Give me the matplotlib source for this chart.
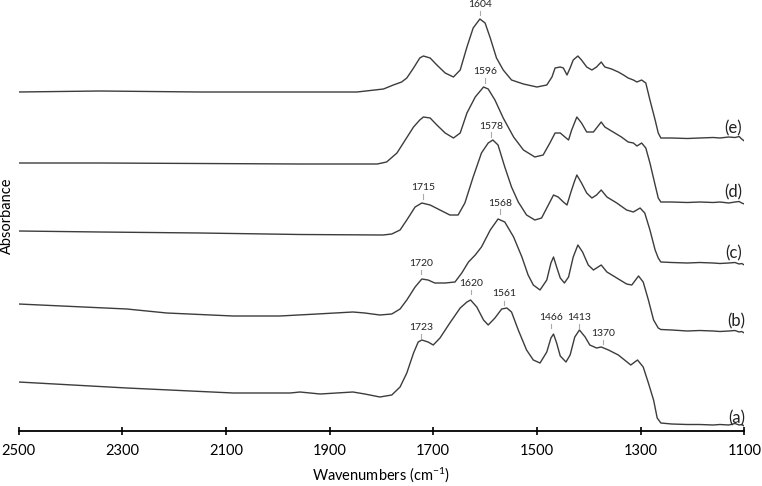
import matplotlib
matplotlib.use('Agg')
import matplotlib.pyplot as plt

plt.rcParams['font.family'] = ['Lato', 'DejaVu Sans']
plt.rcParams['mathtext.fontset'] = 'custom'
plt.rcParams['mathtext.rm'] = 'Lato'
plt.rcParams['mathtext.it'] = 'Lato:italic'

# FTIR spectra, stacked as in the figure (offsets already included)
wn_e = [2500, 2343, 2150, 1957, 1847, 1796, 1777, 1761, 1751, 1738, 1726, 1719, 1706, 1693, 1677,
        1661, 1648, 1635, 1623, 1610, 1600, 1590, 1578, 1565, 1549, 1526, 1500, 1481, 1471, 1465,
        1455, 1449, 1442, 1436, 1430, 1421, 1414, 1404, 1394, 1385, 1376, 1369, 1356, 1343, 1333,
        1324, 1314, 1307, 1298, 1290, 1282, 1272, 1266, 1261, 1240, 1210, 1186, 1160, 1147, 1130,
        1118, 1110, 1105, 1100]
abs_e = [3.39, 3.40, 3.39, 3.39, 3.39, 3.42, 3.46, 3.49, 3.53, 3.63, 3.73, 3.75, 3.73, 3.66, 3.58,
         3.54, 3.61, 3.84, 4.03, 4.12, 4.08, 3.93, 3.73, 3.61, 3.51, 3.47, 3.44, 3.46, 3.54, 3.63,
         3.64, 3.63, 3.56, 3.63, 3.71, 3.75, 3.71, 3.64, 3.61, 3.64, 3.69, 3.64, 3.62, 3.59, 3.56,
         3.53, 3.51, 3.49, 3.51, 3.48, 3.31, 3.11, 2.98, 2.93, 2.93, 2.925, 2.93, 2.935, 2.93, 2.94,
         2.935, 2.945, 2.92, 2.90]

wn_d = [2500, 2343, 2150, 1957, 1808, 1790, 1770, 1754, 1738, 1726, 1719, 1706, 1693, 1677, 1661,
        1648, 1635, 1619, 1603, 1594, 1581, 1565, 1545, 1526, 1504, 1488, 1475, 1465, 1455, 1446,
        1439, 1433, 1423, 1414, 1404, 1391, 1376, 1369, 1353, 1337, 1324, 1314, 1307, 1298, 1290,
        1282, 1272, 1266, 1261, 1240, 1210, 1186, 1160, 1147, 1130, 1118, 1110, 1105, 1100]
abs_d = [2.68, 2.68, 2.675, 2.67, 2.67, 2.69, 2.78, 2.91, 3.04, 3.11, 3.14, 3.13, 3.06, 2.98, 2.93,
         2.98, 3.18, 3.34, 3.44, 3.42, 3.31, 3.13, 2.94, 2.81, 2.74, 2.76, 2.88, 2.98, 2.98, 2.94,
         2.91, 3.01, 3.14, 3.08, 2.99, 2.99, 3.09, 3.04, 2.99, 2.94, 2.89, 2.88, 2.85, 2.88, 2.83,
         2.68, 2.46, 2.33, 2.29, 2.29, 2.285, 2.29, 2.285, 2.29, 2.28, 2.29, 2.295, 2.28, 2.27]

wn_c = [2500, 2343, 2150, 1957, 1797, 1780, 1764, 1751, 1735, 1722, 1706, 1687, 1668, 1652, 1639,
        1623, 1607, 1594, 1585, 1575, 1562, 1549, 1536, 1520, 1504, 1491, 1478, 1468, 1459, 1449,
        1442, 1435, 1428, 1423, 1414, 1404, 1394, 1385, 1376, 1365, 1346, 1327, 1314, 1301, 1292,
        1282, 1272, 1266, 1261, 1240, 1210, 1186, 1160, 1147, 1130, 1118, 1110, 1105, 1100]
abs_c = [2.00, 1.99, 1.98, 1.965, 1.96, 1.97, 2.01, 2.11, 2.24, 2.28, 2.26, 2.21, 2.16, 2.16, 2.28,
         2.54, 2.78, 2.88, 2.91, 2.86, 2.64, 2.44, 2.29, 2.16, 2.11, 2.13, 2.26, 2.36, 2.34, 2.29,
         2.26, 2.38, 2.49, 2.56, 2.48, 2.38, 2.33, 2.36, 2.41, 2.34, 2.28, 2.21, 2.19, 2.23, 2.18,
         2.01, 1.81, 1.73, 1.69, 1.685, 1.68, 1.685, 1.68, 1.675, 1.68, 1.685, 1.67, 1.675, 1.66]

wn_b = [2500, 2291, 2214, 2086, 1996, 1924, 1855, 1832, 1803, 1780, 1764, 1751, 1735, 1722, 1710,
        1697, 1677, 1658, 1645, 1632, 1619, 1607, 1590, 1575, 1562, 1545, 1529, 1517, 1507, 1494,
        1481, 1473, 1468, 1462, 1455, 1447, 1439, 1430, 1421, 1412, 1401, 1391, 1376, 1365, 1346,
        1327, 1317, 1304, 1295, 1285, 1275, 1266, 1261, 1240, 1210, 1186, 1160, 1147, 1130, 1118,
        1110, 1105, 1100]
abs_b = [1.27, 1.22, 1.18, 1.15, 1.15, 1.17, 1.19, 1.18, 1.16, 1.17, 1.22, 1.31, 1.44, 1.52, 1.51,
         1.48, 1.48, 1.49, 1.58, 1.69, 1.76, 1.84, 2.01, 2.12, 2.09, 1.94, 1.74, 1.56, 1.46, 1.41,
         1.51, 1.68, 1.74, 1.64, 1.53, 1.48, 1.54, 1.74, 1.86, 1.79, 1.66, 1.61, 1.66, 1.59, 1.53,
         1.47, 1.46, 1.55, 1.49, 1.31, 1.11, 1.03, 1.015, 1.01, 1.0, 1.005, 1.0, 0.995, 1.0, 1.005,
         0.99, 0.995, 0.98]

wn_a = [2500, 2291, 2086, 1976, 1957, 1918, 1855, 1832, 1803, 1780, 1764, 1751, 1738, 1729, 1722,
        1710, 1700, 1687, 1668, 1648, 1635, 1628, 1616, 1603, 1594, 1581, 1568, 1558, 1549, 1536,
        1520, 1507, 1494, 1481, 1473, 1468, 1462, 1455, 1444, 1436, 1427, 1418, 1407, 1398, 1385,
        1376, 1362, 1343, 1319, 1306, 1295, 1285, 1275, 1268, 1261, 1240, 1210, 1186, 1160, 1147,
        1130, 1118, 1110, 1105, 1100]
abs_a = [0.49, 0.43, 0.38, 0.38, 0.39, 0.37, 0.39, 0.37, 0.34, 0.36, 0.44, 0.58, 0.78, 0.89, 0.91,
         0.89, 0.86, 0.93, 1.08, 1.23, 1.29, 1.31, 1.24, 1.11, 1.06, 1.13, 1.22, 1.23, 1.19, 1.01,
         0.81, 0.71, 0.68, 0.79, 0.93, 0.97, 0.88, 0.75, 0.69, 0.76, 0.94, 1.01, 0.94, 0.86, 0.83,
         0.84, 0.81, 0.76, 0.66, 0.71, 0.64, 0.48, 0.31, 0.13, 0.08, 0.07, 0.065, 0.065, 0.06, 0.065,
         0.06, 0.075, 0.06, 0.065, 0.05]

# peak annotations
peak_text = ['1604', '1596', '1578', '1715', '1568', '1720', '1620', '1561', '1723', '1466', '1413', '1370']
peak_wn = [1610, 1600, 1589, 1720, 1571, 1724, 1627, 1563, 1723, 1473, 1419, 1373]
peak_y = [4.27, 3.59, 3.05, 2.43, 2.28, 1.68, 1.48, 1.37, 1.04, 1.14, 1.14, 0.98]

# sample labels on the right
sample_names = ['(a)', '(b)', '(c)', '(d)', '(e)']
sample_wn = [1115, 1115, 1121, 1121, 1121]
sample_y = [0.13, 1.10, 1.78, 2.39, 3.03]

xticks = [2500, 2300, 2100, 1900, 1700, 1500, 1300, 1100]

fig = plt.figure(figsize=(7.62, 4.86), dpi=100)
ax = fig.add_axes([18.5 / 762, 55 / 486, 725.8 / 762, 431 / 486])

line_col = '#3c3c3c'
for wn, ab in [(wn_a, abs_a), (wn_b, abs_b), (wn_c, abs_c), (wn_d, abs_d), (wn_e, abs_e)]:
    ax.plot(wn, ab, color=line_col, lw=1.0, solid_joinstyle='round')

for t, x, y in zip(peak_text, peak_wn, peak_y):
    ax.text(x, y, t, fontsize=7.5, ha='center', va='center', color='#222222')
    ax.plot([x, x], [y - 0.065, y - 0.11], color='#aaaaaa', lw=0.8)

for t, x, y in zip(sample_names, sample_wn, sample_y):
    ax.text(x, y, t, fontsize=12, ha='center', va='center', color='#222222')

ax.set_xlim(2500, 1100)
ax.set_ylim(0, 4.31)
ax.set_xticks(xticks)
ax.set_xticklabels([str(v) for v in xticks])
ax.set_yticks([])
for s in ['left', 'top', 'right']:
    ax.spines[s].set_visible(False)
ax.spines['bottom'].set_linewidth(1.3)
ax.tick_params(axis='x', direction='inout', length=6, width=1.2, labelsize=10.5, pad=6)
ax.set_xlabel('Wavenumbers (cm$^{-1}$)', fontsize=10.5, labelpad=5.5)
ax.set_ylabel('Absorbance', fontsize=10.5, labelpad=3)
ax.patch.set_alpha(0)

fig.savefig('out.png', dpi=100)
